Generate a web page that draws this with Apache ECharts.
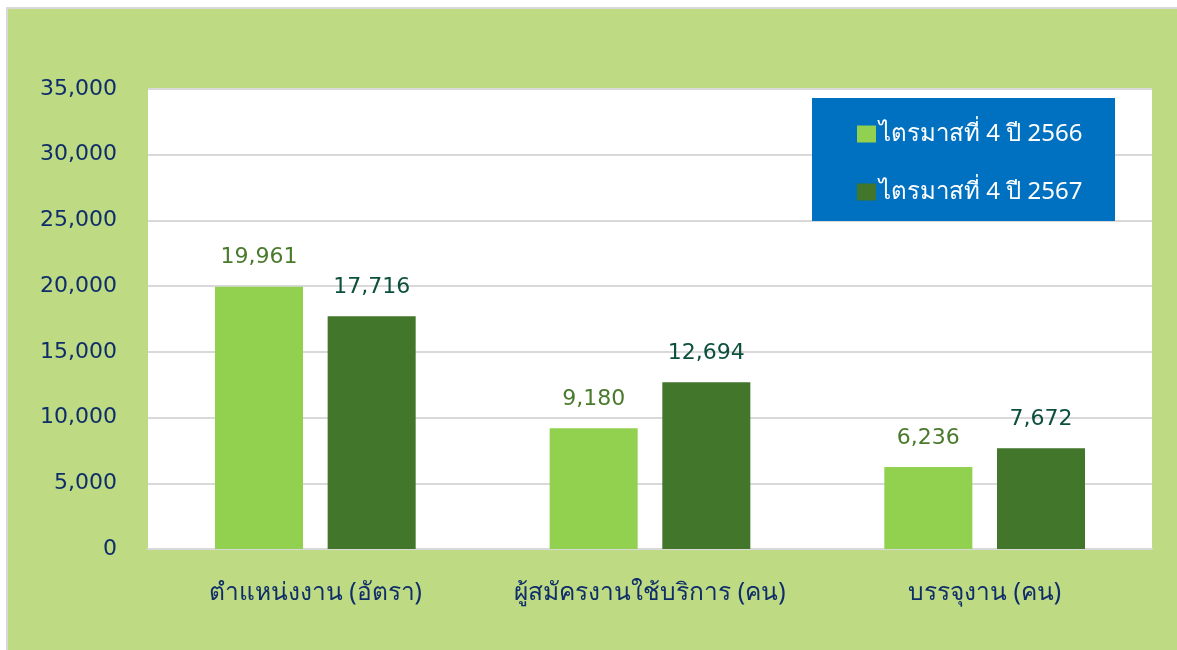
<!DOCTYPE html>
<html><head><meta charset="utf-8">
<script src="https://cdn.jsdelivr.net/npm/echarts@6/dist/echarts.min.js"></script>
<style>
html,body{margin:0;padding:0;background:#fff;width:1177px;height:650px;overflow:hidden;}
#frame{position:absolute;left:6px;top:7px;width:1171px;height:643px;border-left:2px solid #d9d9d9;border-top:2px solid #d9d9d9;background:#BEDB84;}
#chart{position:absolute;left:0;top:0;width:1171px;height:643px;}
</style></head>
<body>
<div id="frame"><div id="chart"></div></div>
<script>
const categories = ['ตำแหน่งงาน (อัตรา)', 'ผู้สมัครงานใช้บริการ (คน)', 'บรรจุงาน (คน)'];
const seriesNames = ['ไตรมาสที่ 4 ปี 2566', 'ไตรมาสที่ 4 ปี 2567'];
const q4_2566 = [19961, 9180, 6236];
const q4_2567 = [17716, 12694, 7672];

const font = '"DejaVu Sans", "Noto Sans", sans-serif';
const navy = '#0F2D69';
const chart = echarts.init(document.getElementById('chart'));
chart.setOption({
  backgroundColor: 'transparent',
  animation: false,
  textStyle: {fontFamily: font},
  grid: {left: 140, right: 27, top: 80, bottom: 103, show: true, backgroundColor: '#fff', borderWidth: 0},
  graphic: [{type: 'rect', left: 804, top: 89, z: 50, shape: {width: 303, height: 123}, style: {fill: '#0070C0'}}],
  legend: {
    z: 100, orient: 'vertical', left: 844, top: 108,
    itemWidth: 19, itemHeight: 17, itemGap: 34,
    icon: 'rect',
    textStyle: {color: '#fff', fontSize: 24, fontFamily: '"Noto Sans", sans-serif', padding: [0, 0, 0, -2]},
    data: seriesNames
  },
  xAxis: {
    type: 'category', data: categories,
    axisLine: {lineStyle: {color: '#d9d9d9', width: 2}},
    axisTick: {show: false},
    axisLabel: {color: navy, fontSize: 24.5, margin: 32, interval: 0, fontFamily: '"Noto Sans", sans-serif'}
  },
  yAxis: {
    type: 'value', min: 0, max: 35000, interval: 5000,
    axisLine: {show: false}, axisTick: {show: false},
    splitLine: {lineStyle: {color: '#d9d9d9', width: 2}},
    axisLabel: {color: navy, fontSize: 22, margin: 31, fontFamily: font,
      formatter: v => v.toLocaleString('en-US')}
  },
  series: [
    {name: seriesNames[0], type: 'bar', data: q4_2566, barWidth: '26.3%', barGap: '28%',
      itemStyle: {color: '#92D050'},
      label: {show: true, position: 'top', distance: 18, color: '#4A7A2C', fontSize: 22, fontFamily: font,
        formatter: p => p.value.toLocaleString('en-US')}},
    {name: seriesNames[1], type: 'bar', data: q4_2567, barWidth: '26.3%',
      itemStyle: {color: '#41762B'},
      label: {show: true, position: 'top', distance: 18, color: '#0B4F3C', fontSize: 22, fontFamily: font,
        formatter: p => p.value.toLocaleString('en-US')}}
  ]
});
</script>
</body></html>
